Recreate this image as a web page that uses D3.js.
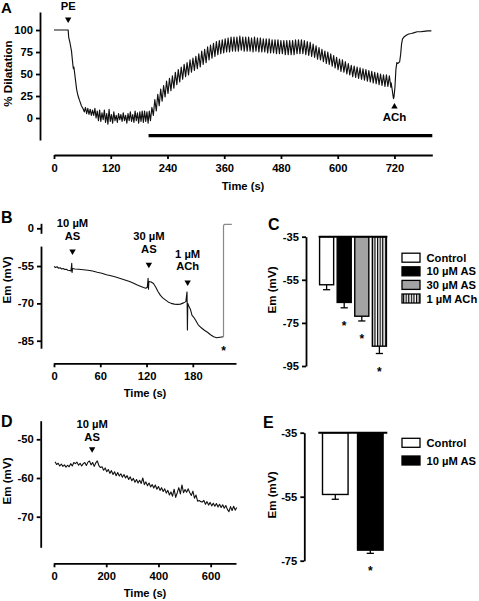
<!DOCTYPE html>
<html><head><meta charset="utf-8">
<script src="https://cdn.jsdelivr.net/npm/d3@7"></script>
<style>
body{margin:0;background:#fff}
svg{display:block}
</style></head><body>
<svg id="c" width="479" height="601"></svg>
<script>
// ---------- Panel A data ----------
const aTimeTicks = [0,120,240,360,480,600,720];
const aPctTicks = [0,25,50,75,100];
const aDropT = [0,30,31,34,37,40,41,42,43,45,48,51,54,58,62];
const aDropV = [100,100,92,85,76,60,56,58,54,45,32,25,20,14,10];
const aNoiseStart = 64, aNoiseStep = 2.5;
const aNoise = [7,12,5,11,4,10,3,9,3,11,0,8,-3,9,-4,6,-2,9,-5,5,-7,10,-4,4,-6,7,-3,3,-5,5,-2,4,-4,6,-3,3,-6,5,-3,7,-4,4,-5,8,-3,6,-6,7,-4,8,-5,8,-4,7,-6,8,-3];
const aOscStart = 207, aOscPeriod = 6.2;
const aOscPeak = [12,21,27,33,37,42,45,48,52,55,58,61,63,66,68,70,73,76,78,81,83,85,87,88,89,90,91,92,92,92,93,92,92,92,91,92,91,91,90,90,90,89,89,89,88,88,88,88,88,89,89,89,88,87,86,84,82,80,78,76,75,73,71,69,67,66,64,62,60,59,58,57,56,55,54,53,52,51,50,49,49,48];
const aOscTrough = [3,8,14,19,24,28,31,34,38,41,44,47,49,52,54,56,58,61,63,66,68,70,72,73,74,75,75,76,76,76,77,76,76,76,75,76,75,75,75,74,74,74,73,73,73,72,72,72,72,73,73,73,72,71,70,69,67,66,64,62,61,59,57,55,53,52,50,49,47,46,45,44,43,42,41,40,39,38,37,36,36,35];
const aRecovery = [[713,40],[715,33],[717,25],[718,22],[719,24],[721,35],[723,55],[725,63],[727,62],[729,63],[731,64],[733,72],[735,84],[737,90],[740,92],[745,94],[750,95.5],[756,96],[762,97],[768,98],[775,98],[782,98.5],[790,99],[798,99]];
const aBar = [200, 800];
const aMarkers = [{label:"PE", t:30, v:108, dir:"down"}, {label:"ACh", t:720, v:17, dir:"up"}];

// ---------- Panel B data ----------
const bTimeTicks = [0,60,120,180];
const bEmTicks = [-55,-70,-85];
const bTrace = [[0,-55.2],[2,-55.6],[4,-55.3],[6,-55.9],[8,-55.7],[10,-56.2],[12,-56.0],[14,-56.4],[16,-56.3],[18,-56.7],[20,-56.8],[22,-57.0],[23,-53.9],[23.5,-57.6],[24,-56.0],[27,-56.2],[32,-56.3],[38,-56.5],[44,-56.7],[50,-57.0],[56,-57.5],[62,-57.9],[68,-58.5],[74,-58.9],[80,-59.4],[86,-60.0],[92,-60.6],[98,-61.2],[104,-62.0],[108,-62.6],[112,-63.1],[116,-63.6],[119,-63.9],[121,-63.5],[122,-59.9],[122.5,-64.3],[123,-61.2],[126,-61.4],[129,-62.0],[132,-63.5],[135,-65.3],[138,-66.8],[141,-67.8],[144,-68.5],[148,-69.4],[152,-70.0],[156,-70.3],[160,-70.4],[164,-70.3],[168,-69.8],[171,-69.3],[172,-66.5],[172.5,-65.4],[173,-80.7],[173.5,-70.0],[175,-71.2],[177,-72.5],[179,-74.8],[181,-75.5],[184,-77.0],[187,-78.6],[191,-79.8],[195,-80.8],[199,-81.6],[203,-82.6],[207,-83.4],[211,-83.8],[215,-83.6],[219.8,-83.4]];
const bLysisT = [219.8, 221.5, 230.6];   // gray trace going back to 0 mV
const bLysisV = 4;
const bMarkers = [{lines:["10 µM","AS"], t:24, v:-50.6}, {lines:["30 µM","AS"], t:123, v:-55.9}, {lines:["1 µM","ACh"], t:173.3, v:-63.0}];

// ---------- Panel C data ----------
const cCats = ["Control","10 µM AS","30 µM AS","1 µM ACh"];
const cMeans = [-57.3,-65.5,-71.9,-85.8];
const cErrs = [2.3,2.5,2.2,3.4];
const cSig = [false,true,true,true];
const cTicks = [-35,-55,-75,-95];

// ---------- Panel D data ----------
const dTimeTicks = [0,200,400,600];
const dEmTicks = [-50,-60,-70];
const dStart = 4, dStep = 6;
const dTrace = [-55.8,-56.5,-56.2,-56.9,-56.4,-57.0,-56.6,-57.2,-56.7,-57.1,
  -56.3,-56.9,-56.0,-56.3,-55.9,-56.7,-56.2,-56.9,-56.3,-56.0,
  -56.8,-55.9,-55.6,-56.6,-56.0,-57.0,-56.1,-55.6,-56.8,-57.3,
  -57.1,-58.0,-57.4,-58.4,-57.8,-58.8,-58.1,-59.1,-58.4,-59.4,
  -58.6,-59.5,-58.9,-59.8,-59.1,-60.0,-59.4,-60.4,-59.7,-60.7,
  -60.1,-61.1,-60.4,-61.3,-60.6,-61.4,-60.0,-61.7,-61.0,-62.0,
  -61.3,-62.3,-61.7,-62.6,-61.8,-62.9,-62.2,-63.2,-62.5,-63.5,
  -62.8,-63.9,-63.2,-64.4,-63.6,-64.7,-62.9,-65.0,-63.8,-62.5,
  -64.1,-61.8,-63.8,-63.0,-63.7,-62.8,-63.8,-64.5,-63.4,-65.2,
  -64.4,-66.0,-65.8,-66.1,-66.2,-65.8,-66.8,-66.1,-67.0,-66.3,
  -67.2,-66.5,-67.3,-66.6,-67.5,-66.8,-67.6,-66.9,-67.8,-67.1,
  -68.1,-68.7,-67.4,-68.4,-67.3,-68.3,-67.6];
const dMarkers = [{lines:["10 µM","AS"], t:146, v:-53.5}];

// ---------- Panel E data ----------
const eCats = ["Control","10 µM AS"];
const eMeans = [-54.3,-71.7];
const eErrs = [1.5,1.0];
const eSig = [false,true];
const eTicks = [-35,-55,-75];

// ---------- drawing ----------
const FONT = '"Liberation Sans", Arial, Helvetica, sans-serif';
const svg = d3.select('#c');
const fmt = d => String(d);

function styleAxis(g){
  g.select('.domain').attr('stroke','#000').attr('stroke-width',1.8);
  g.selectAll('.tick line').attr('stroke','#000').attr('stroke-width',1.8);
  g.selectAll('.tick text').attr('font-family',FONT).attr('font-weight','bold').attr('font-size',11.2).attr('fill','#000');
}
function txt(x,y,s,opts={}){
  const t = svg.append('text').attr('x',x).attr('y',y).text(s)
    .attr('font-family',FONT).attr('font-weight','bold')
    .attr('font-size',opts.size||11.2).attr('fill','#000')
    .attr('text-anchor',opts.anchor||'middle');
  if(opts.rotate) t.attr('transform',`rotate(-90,${x},${y})`);
  return t;
}
function triDown(x,yTip){
  svg.append('path').attr('d',`M${x-3.2},${yTip-5.5}L${x+3.2},${yTip-5.5}L${x},${yTip}Z`).attr('fill','#000');
}
function triUp(x,yTip){
  svg.append('path').attr('d',`M${x-3.2},${yTip+5.5}L${x+3.2},${yTip+5.5}L${x},${yTip}Z`).attr('fill','#000');
}
function star(x,yc){ txt(x,yc+7,'*',{size:12}); }

// ===== Panel A =====
const xA = d3.scaleLinear().domain([0,800]).range([54,432.3]);
const yA = d3.scaleLinear().domain([-25,120.5]).range([140,12]);
svg.append('g').attr('transform','translate(40,0)')
  .call(d3.axisLeft(yA).tickValues(aPctTicks).tickFormat(fmt).tickSize(4).tickPadding(3).tickSizeOuter(0)).call(styleAxis);
svg.append('g').attr('transform','translate(0,155)')
  .call(d3.axisBottom(xA).tickValues(aTimeTicks).tickFormat(fmt).tickSize(4).tickPadding(5).tickSizeOuter(0)).call(styleAxis);

const aPts = [];
aDropT.forEach((t,i)=>aPts.push([t,aDropV[i]]));
aNoise.forEach((v,i)=>aPts.push([aNoiseStart+i*aNoiseStep, v]));
aOscPeak.forEach((v,i)=>{
  const t = aOscStart + i*aOscPeriod;
  aPts.push([t, v]);
  aPts.push([t + aOscPeriod/2, aOscTrough[i]]);
});
aRecovery.forEach(p=>aPts.push(p));
const lineA = d3.line().x(d=>xA(d[0])).y(d=>yA(d[1]));
svg.append('path').attr('d',lineA(aPts)).attr('fill','none').attr('stroke','#111').attr('stroke-width',1.15).attr('stroke-linejoin','round');

svg.append('line').attr('x1',xA(aBar[0])).attr('x2',xA(aBar[1])).attr('y1',135.7).attr('y2',135.7).attr('stroke','#000').attr('stroke-width',3.3);

aMarkers.forEach(m=>{
  const x = xA(m.t), y = yA(m.v);
  if(m.dir==='down'){ triDown(x,y); txt(x,y-13,m.label); }
  else { triUp(x,y); txt(x,y+18,m.label,{size:11.5}); }
});
txt(243,190,'Time (s)');
txt(11.5,73.5,'% Dilatation',{rotate:true,size:11.6});
txt(1,12.5,'A',{size:15,anchor:'start'});

// ===== Panel B =====
const xB = d3.scaleLinear().domain([0,236]).range([54,236]);
const yB = d3.scaleLinear().domain([-88,-47]).range([348.2,246.1]);
const yBb = d3.scaleLinear().domain([-5,5]).range([233.3,223.3]);
svg.append('g').attr('transform','translate(41,0)')
  .call(d3.axisLeft(yB).tickValues(bEmTicks).tickFormat(fmt).tickSize(4).tickPadding(3).tickSizeOuter(0)).call(styleAxis);
svg.append('g').attr('transform','translate(41,0)')
  .call(d3.axisLeft(yBb).tickValues([0]).tickFormat(fmt).tickSize(4).tickPadding(3).tickSizeOuter(0)).call(styleAxis);
svg.append('g').attr('transform','translate(0,363.3)')
  .call(d3.axisBottom(xB).tickValues(bTimeTicks).tickFormat(fmt).tickSize(4).tickPadding(5).tickSizeOuter(0)).call(styleAxis);

const lineB = d3.line().x(d=>xB(d[0])).y(d=>yB(d[1]));
svg.append('path').attr('d',lineB(bTrace)).attr('fill','none').attr('stroke','#111').attr('stroke-width',1.1).attr('stroke-linejoin','round');
const lastB = bTrace[bTrace.length-1];
const gx0 = xB(bLysisT[0]), gx1 = xB(bLysisT[1]), gx2 = xB(bLysisT[2]);
const gy = yBb(bLysisV);
svg.append('path').attr('d',`M${gx0},${yB(lastB[1])}L${gx0},${gy+2.5}Q${gx0},${gy} ${gx1},${gy}L${gx2},${gy}`)
  .attr('fill','none').attr('stroke','#888').attr('stroke-width',1.2);
star(gx0, yB(lastB[1])+11);

bMarkers.forEach(m=>{
  const x = xB(m.t), yt = yB(m.v);
  triDown(x,yt);
  txt(x,yt-15.5,m.lines[1]);
  txt(x,yt-28,m.lines[0]);
});
txt(145,397,'Time (s)');
txt(11.3,280,'Em (mV)',{rotate:true,size:11.6});
txt(1,223,'B',{size:16,anchor:'start'});

// ===== bar panels (C, E) =====
const defs = svg.append('defs');
const pat = defs.append('pattern').attr('id','stripes').attr('patternUnits','userSpaceOnUse').attr('width',2.6).attr('height',4);
pat.append('rect').attr('width',2.6).attr('height',4).attr('fill','#fff');
pat.append('rect').attr('x',0).attr('width',1.2).attr('height',4).attr('fill','#000');
const fills = {"Control":"#fff","10 µM AS":"#000","30 µM AS":"#a3a3a3","1 µM ACh":"url(#stripes)"};

function barPanel(cfg){
  const y = d3.scaleLinear().domain(cfg.domain).range(cfg.yRange);
  const x = d3.scaleBand().domain(cfg.cats).range(cfg.xRange).paddingInner(cfg.pi).paddingOuter(cfg.po);
  svg.append('g').attr('transform',`translate(${cfg.axisX},0)`)
    .call(d3.axisLeft(y).tickValues(cfg.ticks).tickFormat(fmt).tickSize(4).tickPadding(3).tickSizeOuter(0)).call(styleAxis);
  const top = cfg.domain[1];
  cfg.cats.forEach((c,i)=>{
    const x0 = x(c), w = x.bandwidth();
    const yb = y(cfg.means[i]), ye = y(cfg.means[i]-cfg.errs[i]);
    svg.append('line').attr('x1',x0+w/2).attr('x2',x0+w/2).attr('y1',yb).attr('y2',ye).attr('stroke','#000').attr('stroke-width',1.3);
    svg.append('line').attr('x1',x0+w/2-3.6).attr('x2',x0+w/2+3.6).attr('y1',ye).attr('y2',ye).attr('stroke','#000').attr('stroke-width',1.3);
    svg.append('rect').attr('x',x0).attr('y',y(top)).attr('width',w).attr('height',yb-y(top))
      .attr('fill',fills[c]).attr('stroke','#000').attr('stroke-width',1.4);
    if(cfg.sig[i]) star(x0+w/2, ye+15);
  });
  svg.append('line').attr('x1',cfg.xRange[0]).attr('x2',cfg.xRange[1]).attr('y1',y(top)).attr('y2',y(top)).attr('stroke','#000').attr('stroke-width',2);
  cfg.cats.forEach((c,i)=>{
    const yc = cfg.legY + i*cfg.legStep;
    svg.append('rect').attr('x',402).attr('y',yc-4.5).attr('width',18).attr('height',9)
      .attr('fill',fills[c]).attr('stroke','#000').attr('stroke-width',1.3);
    txt(426.5,yc+4,c,{anchor:'start'});
  });
}
barPanel({domain:[-95,-35], yRange:[366,236.7], cats:cCats, means:cMeans, errs:cErrs, sig:cSig, ticks:cTicks,
  xRange:[318.7,387.3], pi:0.2, po:0.05, axisX:306, legY:257.7, legStep:13.6});
txt(276,290,'Em (mV)',{rotate:true,size:11.6});
txt(268,230,'C',{size:16,anchor:'start'});

barPanel({domain:[-75,-35], yRange:[560.7,432.7], cats:eCats, means:eMeans, errs:eErrs, sig:eSig, ticks:eTicks,
  xRange:[318.3,387.3], pi:0.27, po:0.12, axisX:304.3, legY:442.8, legStep:17.7});
txt(276,495,'Em (mV)',{rotate:true,size:11.6});
txt(263,428.3,'E',{size:16,anchor:'start'});

// ===== Panel D =====
const xD = d3.scaleLinear().domain([0,697]).range([54,236]);
const yD = d3.scaleLinear().domain([-77.9,-45.2]).range([547.3,420.7]);
svg.append('g').attr('transform','translate(40.7,0)')
  .call(d3.axisLeft(yD).tickValues(dEmTicks).tickFormat(fmt).tickSize(4).tickPadding(3).tickSizeOuter(0)).call(styleAxis);
svg.append('g').attr('transform','translate(0,563.3)')
  .call(d3.axisBottom(xD).tickValues(dTimeTicks).tickFormat(fmt).tickSize(4).tickPadding(5).tickSizeOuter(0)).call(styleAxis);
const lineD = d3.line().x((d,i)=>xD(dStart+i*dStep)).y(d=>yD(d));
svg.append('path').attr('d',lineD(dTrace)).attr('fill','none').attr('stroke','#111').attr('stroke-width',1.1).attr('stroke-linejoin','round');
dMarkers.forEach(m=>{
  const x = xD(m.t), yt = yD(m.v);
  triDown(x,yt);
  txt(x,yt-12.3,m.lines[1]);
  txt(x,yt-24.7,m.lines[0]);
});
txt(145,597,'Time (s)');
txt(11.3,481,'Em (mV)',{rotate:true,size:11.6});
txt(1,426.7,'D',{size:16,anchor:'start'});
</script>
</body></html>
